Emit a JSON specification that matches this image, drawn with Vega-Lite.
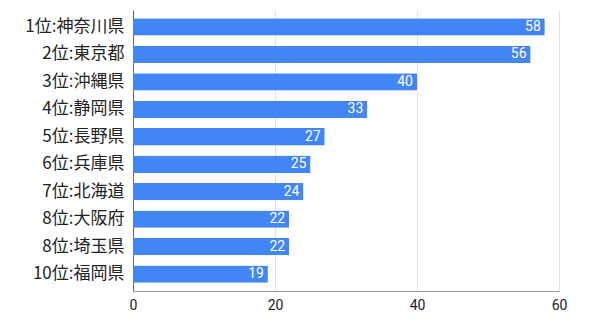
{
  "$schema": "https://vega.github.io/schema/vega-lite/v6.json",
  "width": 426,
  "height": 281,
  "autosize": {"type": "none"},
  "padding": {"left": 133, "top": 10, "right": 31, "bottom": 31},
  "background": "white",
  "config": {
    "view": {"stroke": null},
    "font": "Noto Sans CJK JP"
  },
  "data": {
    "values": [
      {"rank": "1位:神奈川県", "value": 58},
      {"rank": "2位:東京都", "value": 56},
      {"rank": "3位:沖縄県", "value": 40},
      {"rank": "4位:静岡県", "value": 33},
      {"rank": "5位:長野県", "value": 27},
      {"rank": "6位:兵庫県", "value": 25},
      {"rank": "7位:北海道", "value": 24},
      {"rank": "8位:大阪府", "value": 22},
      {"rank": "8位:埼玉県", "value": 22},
      {"rank": "10位:福岡県", "value": 19}
    ]
  },
  "encoding": {
    "y": {
      "field": "rank", "type": "nominal", "sort": null,
      "scale": {"paddingInner": 0.37, "paddingOuter": 0.3},
      "axis": {"title": null, "ticks": false, "labelFontSize": 17, "labelColor": "#222", "labelPadding": 9, "domainColor": "#666", "domainWidth": 1}
    },
    "x": {
      "field": "value", "type": "quantitative",
      "scale": {"domain": [0, 60], "nice": false},
      "axis": {"title": null, "values": [0, 20, 40, 60], "ticks": false, "labelFontSize": 14, "labelColor": "#222", "labelPadding": 7, "gridColor": "#e0e0e0", "domainColor": "#999", "labelFlush": false, "labelFont": "Roboto"}
    }
  },
  "layer": [
    {"mark": {"type": "bar", "color": "#4285f4", "cornerRadiusEnd": 1}},
    {
      "mark": {"type": "text", "align": "right", "dx": -4, "color": "white", "fontSize": 14, "font": "Roboto"},
      "encoding": {"text": {"field": "value", "type": "quantitative"}}
    }
  ]
}
